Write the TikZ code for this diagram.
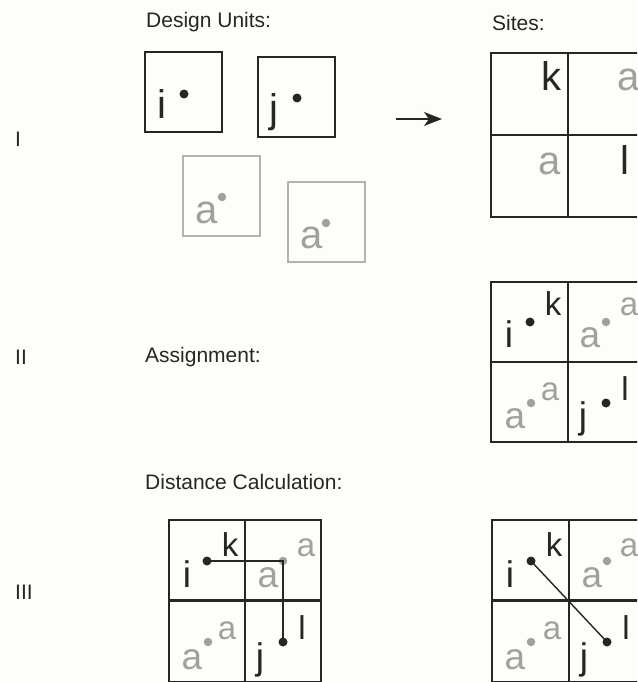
\documentclass[tikz,border=0pt]{standalone}
\usepackage{fontspec}
\setmainfont{Liberation Sans}
\usetikzlibrary{arrows.meta}

\definecolor{ink}{RGB}{38,38,38}
\definecolor{pale}{RGB}{160,160,160}
\definecolor{paleline}{RGB}{178,178,178}
\definecolor{paper}{RGB}{253,253,250}

\tikzset{
  cellbox/.style={draw=ink, line width=1.2pt, minimum width=77pt, minimum height=80pt,
                  inner sep=0pt, outer sep=0pt, anchor=north west},
  palebox/.style={cellbox, draw=paleline},
  % large letters name design units, smaller ones name sites
  letter/.style={font=\fontsize{40}{40}\selectfont, anchor=base, inner sep=0pt, text=ink},
  paleletter/.style={letter, text=pale},
  unitletter/.style={letter, font=\fontsize{37}{37}\selectfont},
  paleunit/.style={unitletter, text=pale},
  siteletter/.style={letter, font=\fontsize{33}{33}\selectfont},
  palesite/.style={siteletter, text=pale},
  dotmark/.style={circle, fill=ink, minimum size=9pt, inner sep=0pt},
  paledot/.style={circle, fill=pale, minimum size=8.5pt, inner sep=0pt},
  heading/.style={font=\fontsize{21}{21}\selectfont, anchor=west, inner sep=0pt, text=ink},
  link/.style={draw=ink, line width=1.4pt},
}

\begin{document}
\begin{tikzpicture}[x=1pt, y=-1pt]
  \useasboundingbox (0,0) rectangle (637,682);
  \fill[paper] (0,0) rectangle (637,682);
  \clip (0,0) rectangle (637,682);

  % row numerals and headings
  \node[heading] (rowI)   at (15,139) {I};
  \node[heading] (rowII)  at (15,357) {II};
  \node[heading] (rowIII) at (15,592) {III};
  \node[heading] (hunits)  at (146,22)  {Design Units:};
  \node[heading] (hsites)  at (492,23)  {Sites:};
  \node[heading] (hassign) at (145,357) {Assignment:};
  \node[heading] (hdist)   at (145,482) {Distance Calculation:};

  % design units
  \begin{scope}[shift={(145,52)}]
    \node[cellbox] (ubi) at (0,0) {};
    \node[letter] (ubiL) at (17,66) {i};
    \node[dotmark] (ubiD) at (39,42) {};
  \end{scope}
  \begin{scope}[shift={(258,57)}]
    \node[cellbox] (ubj) at (0,0) {};
    \node[letter] (ubjL) at (16,65) {j};
    \node[dotmark] (ubjD) at (39,41) {};
  \end{scope}
  \begin{scope}[shift={(183,156)}]
    \node[palebox] (uba1) at (0,0) {};
    \node[paleletter] (uba1L) at (24,67) {a};
    \node[paledot] (uba1D) at (39,41) {};
  \end{scope}
  \begin{scope}[shift={(288,182)}]
    \node[palebox] (uba2) at (0,0) {};
    \node[paleletter] (uba2L) at (24,66) {a};
    \node[paledot] (uba2D) at (38,41) {};
  \end{scope}

  % arrow from units to sites
  \coordinate (arrS) at (396,119);
  \coordinate (arrE) at (442,119);
  \draw[ink, line width=1.4pt, -{Stealth[length=18pt, width=14pt, inset=5pt]}] (arrS) -- (arrE);

  % sites
  \begin{scope}[shift={(491,53)}]
    \node[cellbox, minimum height=82pt] (s11) at (0,0) {};
    \node[cellbox, minimum height=82pt] (s12) at (77,0) {};
    \node[cellbox, minimum height=82pt] (s21) at (0,82) {};
    \node[cellbox, minimum height=82pt] (s22) at (77,82) {};
    \node[letter] (s11L) at (60,38) {k};
    \node[paleletter] (s12L) at (138,38) {a};
    \node[paleletter] (s21L) at (59,121) {a};
    \node[letter] (s22L) at (134,121) {l};
  \end{scope}

  % assignment
  \begin{scope}[shift={(491,282)}]
    \node[cellbox] (a11) at (0,0) {};
    \node[cellbox] (a12) at (77,0) {};
    \node[cellbox] (a21) at (0,80) {};
    \node[cellbox] (a22) at (77,80) {};
    \node[unitletter] (a11U) at (18,65) {i};
    \node[dotmark] (a11D) at (39,40) {};
    \node[siteletter] (a11S) at (62,33) {k};
    \node[paleunit] (a12U) at (99,65) {a};
    \node[paledot] (a12D) at (115,40) {};
    \node[palesite] (a12S) at (138,33) {a};
    \node[paleunit] (a21U) at (24,146) {a};
    \node[paledot] (a21D) at (40,121) {};
    \node[palesite] (a21S) at (59,118) {a};
    \node[unitletter] (a22U) at (92,146) {j};
    \node[dotmark] (a22D) at (115,121) {};
    \node[siteletter] (a22S) at (134,118) {l};
  \end{scope}

  % distance, rectilinear
  \begin{scope}[shift={(169,520)}]
    \node[cellbox, minimum width=76pt] (m11) at (0,0) {};
    \node[cellbox, minimum width=76pt] (m12) at (76,0) {};
    \node[cellbox, minimum width=76pt, minimum height=81pt] (m21) at (0,81) {};
    \node[cellbox, minimum width=76pt, minimum height=81pt] (m22) at (76,81) {};
    \node[unitletter] (m11U) at (18,67) {i};
    \node[dotmark] (m11D) at (38,41) {};
    \node[siteletter] (m11S) at (61,36) {k};
    \node[paleunit] (m12U) at (99,67) {a};
    \node[paledot] (m12D) at (114,41) {};
    \node[palesite] (m12S) at (137,36) {a};
    \node[paleunit] (m21U) at (23,149) {a};
    \node[paledot] (m21D) at (39,122) {};
    \node[palesite] (m21S) at (58,119) {a};
    \node[unitletter] (m22U) at (91,149) {j};
    \node[dotmark] (m22D) at (114,122) {};
    \node[siteletter] (m22S) at (133,119) {l};
  \end{scope}
  \draw[link] (m11D.center) -| (m22D.center);

  % distance, straight line
  \begin{scope}[shift={(492,520)}]
    \node[cellbox] (e11) at (0,0) {};
    \node[cellbox] (e12) at (77,0) {};
    \node[cellbox, minimum height=81pt] (e21) at (0,81) {};
    \node[cellbox, minimum height=81pt] (e22) at (77,81) {};
    \node[unitletter] (e11U) at (18,67) {i};
    \node[dotmark] (e11D) at (39,41) {};
    \node[siteletter] (e11S) at (62,36) {k};
    \node[paleunit] (e12U) at (100,67) {a};
    \node[paledot] (e12D) at (115,41) {};
    \node[palesite] (e12S) at (137,36) {a};
    \node[paleunit] (e21U) at (23,149) {a};
    \node[paledot] (e21D) at (39,122) {};
    \node[palesite] (e21S) at (60,119) {a};
    \node[unitletter] (e22U) at (92,149) {j};
    \node[dotmark] (e22D) at (115,122) {};
    \node[siteletter] (e22S) at (134,119) {l};
  \end{scope}
  \draw[link] (e11D.center) -- (e22D.center);
\end{tikzpicture}
\end{document}
